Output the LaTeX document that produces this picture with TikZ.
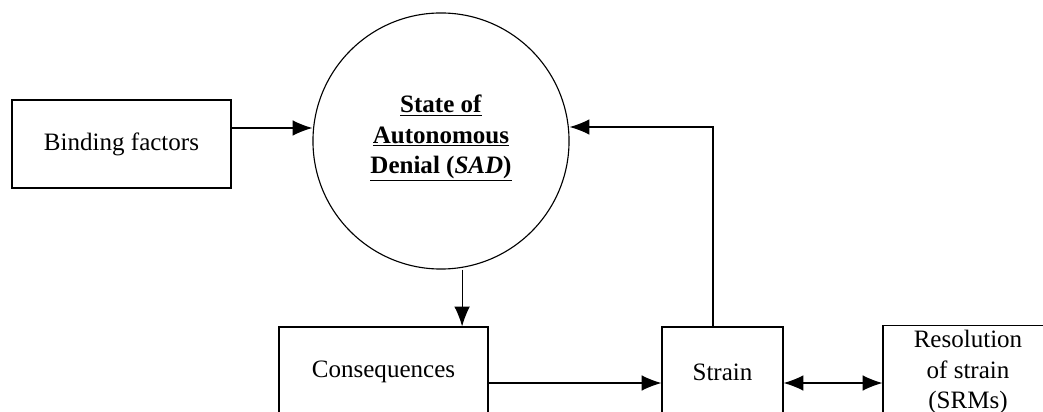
\documentclass[tikz,border=0pt]{standalone}
\usepackage{fontspec}
\setmainfont{Liberation Serif}
\usetikzlibrary{shapes.geometric, arrows.meta}
\tikzstyle{process} = [rectangle, minimum height=2.25cm, text centered, align=center, draw=black, thick]
\tikzstyle{state} = [circle, minimum size=6.4cm, inner sep=0pt, text centered, align=center, draw=black, thick]
\tikzstyle{arrow} = [thick,-{Latex[length=14pt,width=11pt]}]
\tikzstyle{biarrow} = [thick,{Latex[length=14pt,width=11pt]}-{Latex[length=14pt,width=11pt]}]

\begin{document}
\begin{tikzpicture}[x=0.025cm, y=-0.025cm, font=\fontsize{17.8}{21.5}\selectfont]
\clip (0,0) rectangle (1043,412);
\fill[white] (0,0) rectangle (1043,412);
\node (bind) [process, minimum width=5.475cm, minimum height=2.2cm] at (121.5,144) {Binding factors};
\node (sad) [state] at (441,141) {\underline{\textbf{State of}}\\ \underline{\textbf{Autonomous}}\\ \underline{\textbf{Denial (\textit{SAD})}}\\[-12pt]};
\node (cons) [process, minimum width=5.225cm] at (383.5,372) {Consequences};
\node (strain) [process, minimum width=3.025cm] at (722.5,372) {Strain};
\node (res) [process, minimum width=4.25cm] at (968,372) {Resolution\\ of strain\\ (SRMs)};
\coordinate (fb) at (713,127);

\draw [arrow] ([yshift=0.4cm]bind.east) -- ([yshift=0.4cm]bind.east -| sad.west);
\draw [arrow] ([xshift=15]sad.south) -- ([xshift=15]sad.south |- cons.north);
\draw [arrow] ([yshift=-0.275cm]cons.east) -- ([yshift=-0.275cm]cons.east -| strain.west);
\draw [biarrow] ([yshift=-0.275cm]strain.east) -- ([yshift=-0.275cm]strain.east -| res.west);
\draw [arrow] (fb |- strain.north) -- (fb) -- (fb -| sad.east);
\end{tikzpicture}
\end{document}
